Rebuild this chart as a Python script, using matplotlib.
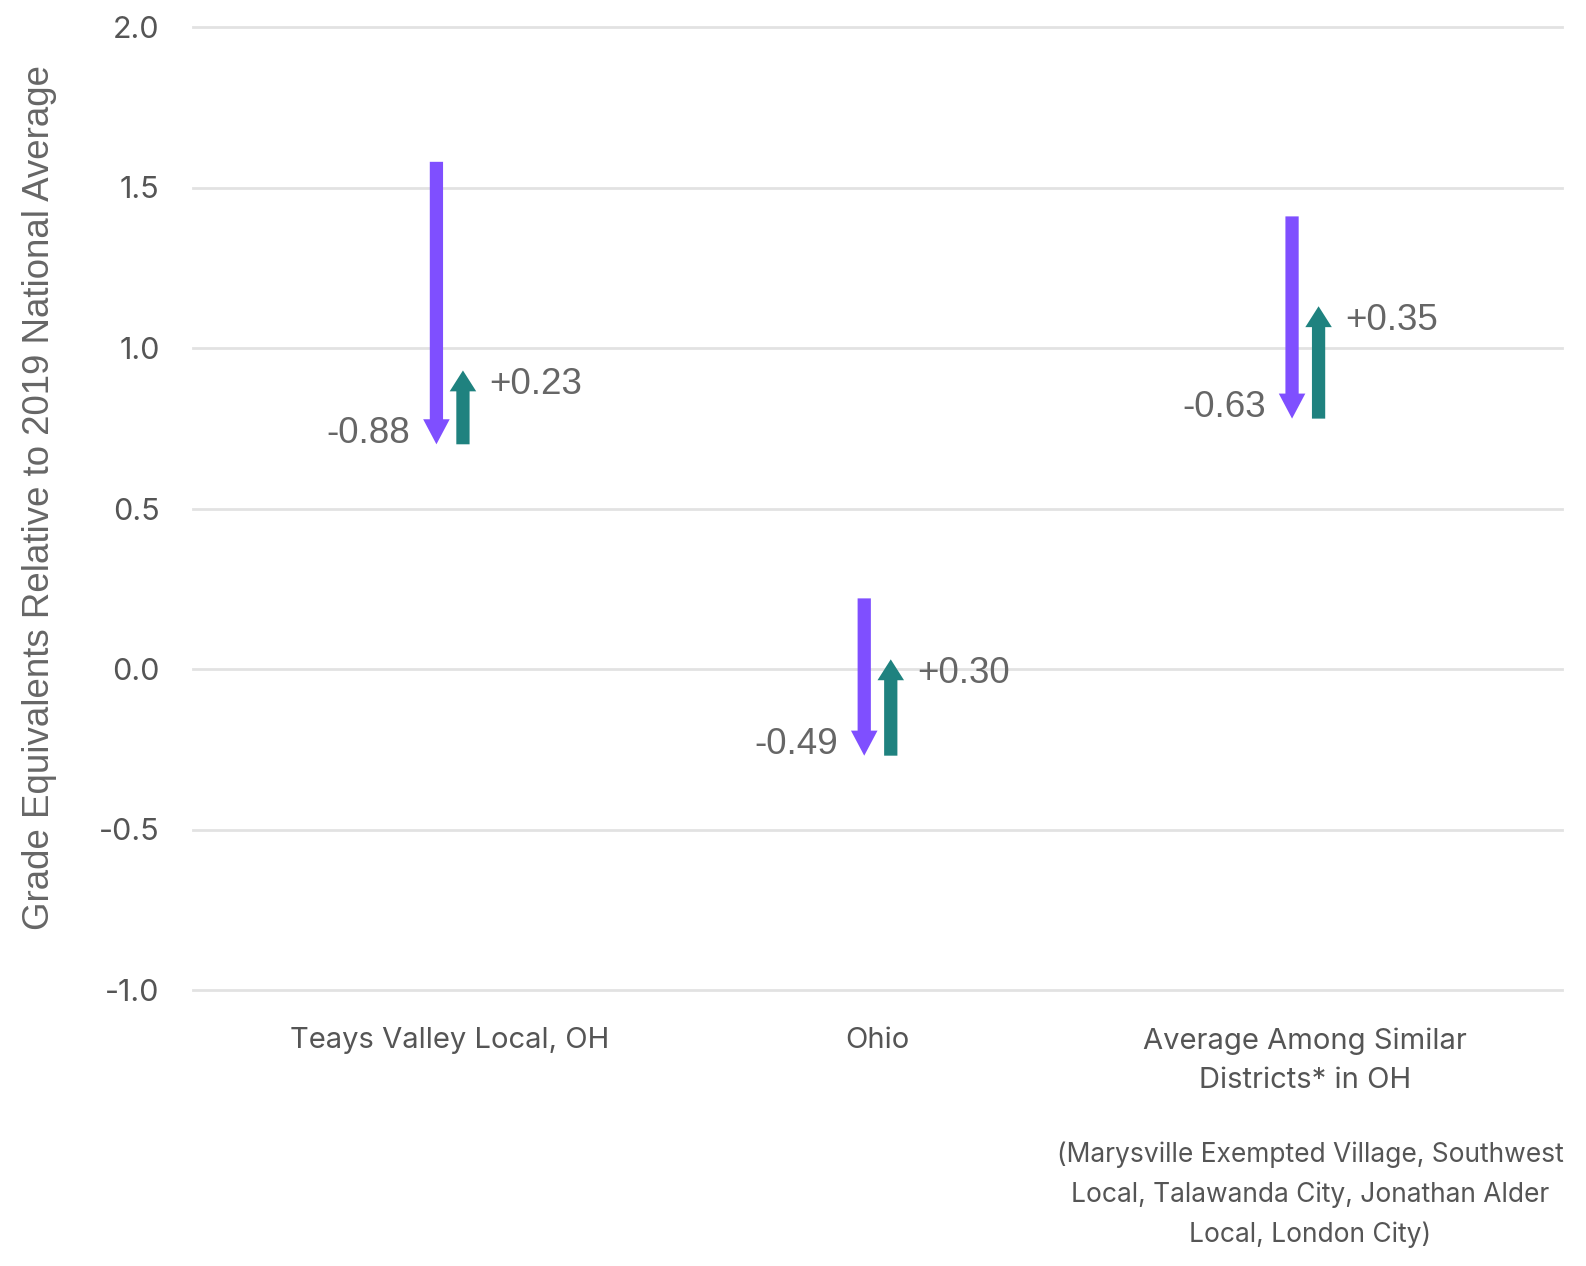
import matplotlib
matplotlib.use("Agg")
import matplotlib.pyplot as plt

categories = ["Teays Valley Local, OH", "Ohio", "Average Among Similar\nDistricts* in OH"]
start_vals = [1.58, 0.22, 1.41]
declines = [-0.88, -0.49, -0.63]
recoveries = [0.23, 0.30, 0.35]
decline_labels = ["-0.88", "-0.49", "-0.63"]
recovery_labels = ["+0.23", "+0.30", "+0.35"]
yticks = [-1.0, -0.5, 0.0, 0.5, 1.0, 1.5, 2.0]
caption = "(Marysville Exempted Village, Southwest\nLocal, Talawanda City, Jonathan Alder\nLocal, London City)"

PURPLE = "#7F4FFF"
TEAL = "#1F827F"
TXT = "#666666"

fig = plt.figure(figsize=(15.86, 12.66), dpi=100)
ax = fig.add_axes([193/1586, 1-990/1266, (1562-193)/1586, (990-27)/1266])
ax.set_xlim(-0.6, 2.6)
ax.set_ylim(-1.0, 2.0)

for s in ax.spines.values():
    s.set_visible(False)
ax.set_yticks(yticks)
ax.set_yticklabels([f"{v:.1f}" for v in yticks], fontfamily="Inter", fontsize=22, color="#555555")
ax.tick_params(axis="y", length=0, pad=24)
ax.tick_params(axis="x", length=0, pad=27)
ax.yaxis.grid(True, color="#e2e2e2", linewidth=2)
for gl in ax.get_ygridlines():
    gl.set_clip_on(False)
ax.set_axisbelow(True)

xs = list(range(len(categories)))
ax.set_xticks(xs)
ax.set_xticklabels(categories, fontfamily="Inter", fontsize=21, color="#555555", linespacing=1.55)

off = 0.031
for i, x in enumerate(xs):
    s = start_vals[i]
    e = s + declines[i]
    e2 = e + recoveries[i]
    ax.arrow(x - off, s, 0, declines[i], width=0.031, head_width=0.062, head_length=0.078,
             length_includes_head=True, color=PURPLE, linewidth=0)
    ax.arrow(x + off, e, 0, recoveries[i], width=0.031, head_width=0.062, head_length=0.065,
             length_includes_head=True, color=TEAL, linewidth=0)
    ax.annotate(decline_labels[i], (x - off, e), xytext=(-19, 8), textcoords="offset points",
                ha="right", va="center", fontfamily="Liberation Sans", fontsize=26.5, color=TXT)
    ax.annotate(recovery_labels[i], (x + off, e2), xytext=(19, -10), textcoords="offset points",
                ha="left", va="center", fontfamily="Liberation Sans", fontsize=26.5, color=TXT)

ax.set_ylabel("Grade Equivalents Relative to 2019 National Average", fontfamily="Liberation Sans",
              fontsize=26.4, color=TXT)
ax.yaxis.set_label_coords(-(193-57)/1369, 0.511)

fig.text(1310/1586, 1-1195/1266, caption, ha="center", va="center", fontfamily="Inter",
         fontsize=19, color="#555555", linespacing=1.65)

fig.savefig("out.png", dpi=100, facecolor="white")
